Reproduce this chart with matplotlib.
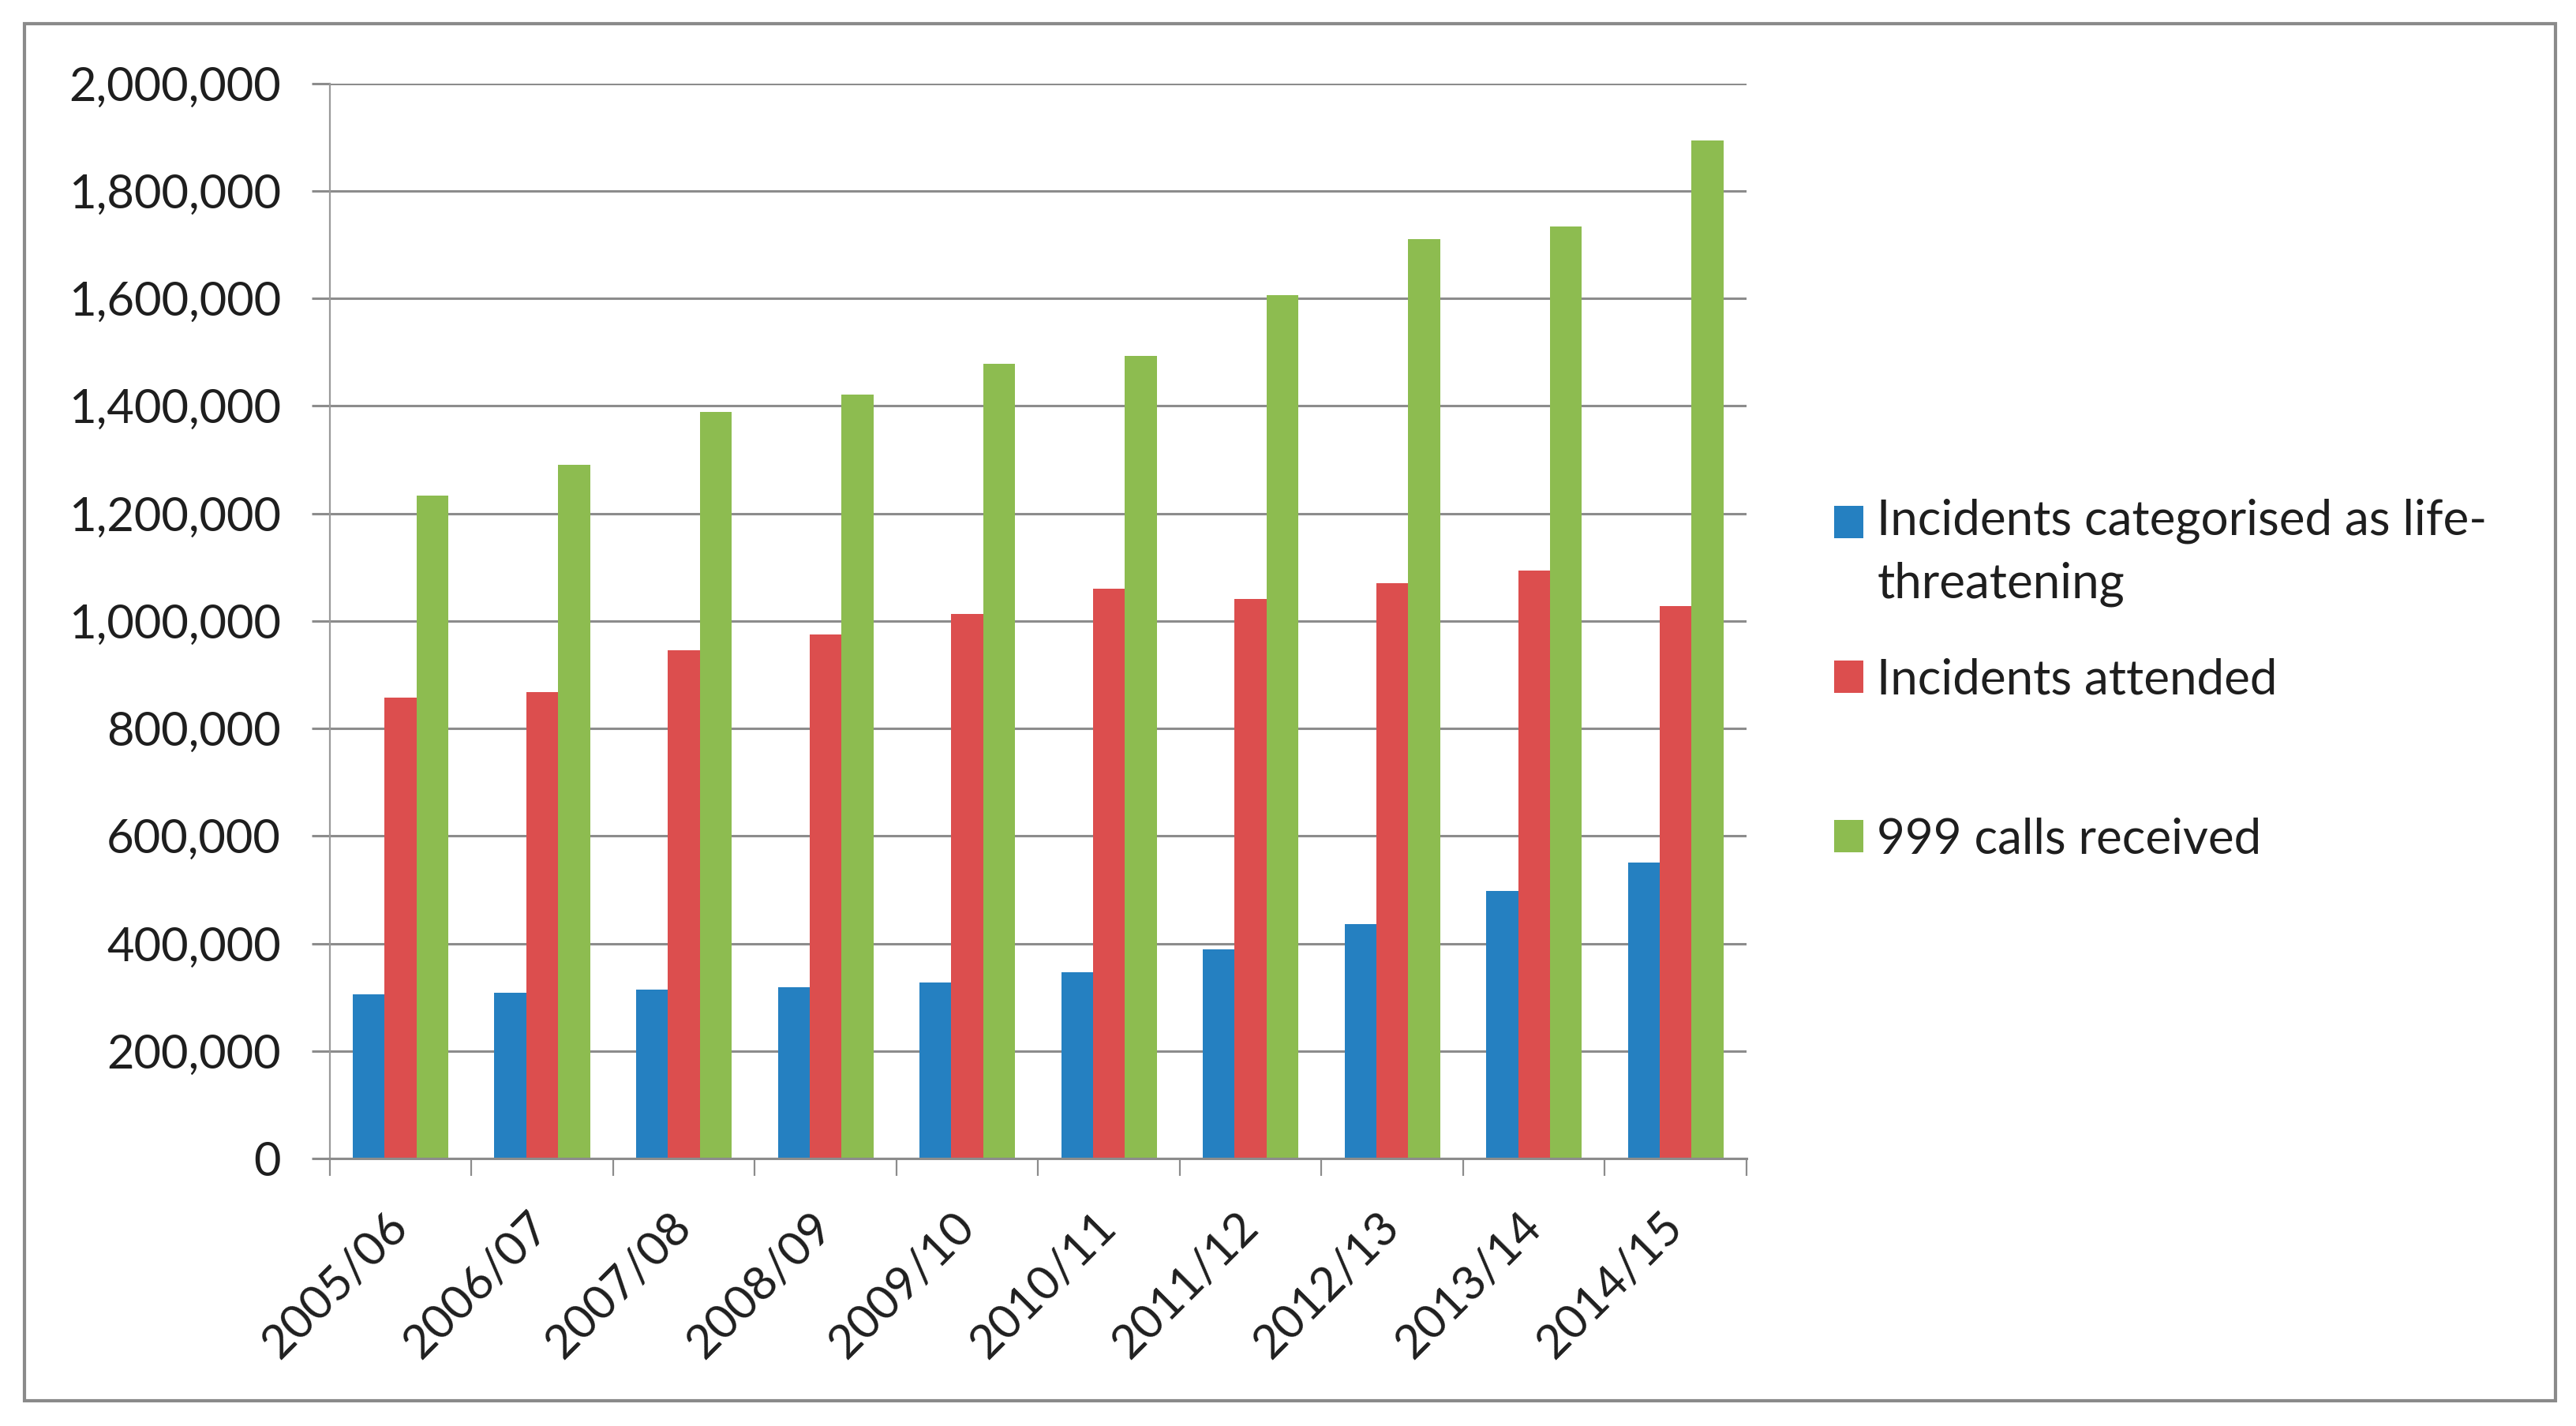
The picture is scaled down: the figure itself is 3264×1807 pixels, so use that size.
import matplotlib
matplotlib.use("Agg")
import matplotlib.pyplot as plt
import matplotlib.patches as mpatches
from matplotlib.legend_handler import HandlerPatch
from matplotlib.ticker import FuncFormatter, FixedLocator
import numpy as np

# data
years = ["2005/06", "2006/07", "2007/08", "2008/09", "2009/10",
         "2010/11", "2011/12", "2012/13", "2013/14", "2014/15"]
life_threatening = [305000, 309000, 314000, 319000, 328000,
                    346000, 389000, 436000, 498000, 550000]
attended = [857000, 867000, 946000, 974000, 1013000,
            1060000, 1041000, 1070000, 1093000, 1027000]
calls_999 = [1233000, 1290000, 1389000, 1421000, 1478000,
             1493000, 1606000, 1710000, 1734000, 1894000]

labels = ["Incidents categorised as life-\nthreatening",
          "Incidents attended",
          "999 calls received"]
colors = ["#2580C1", "#DC4E4E", "#8DBC50"]

plt.rcParams["font.family"] = ["Lato", "DejaVu Sans"]
TXT = "#1e1e1e"

fig = plt.figure(figsize=(16.32, 9.035), dpi=200)
ax = fig.add_axes([0.128, 0.1876, 0.55, 0.754])

x = np.arange(len(years))
w = 0.225
series = [life_threatening, attended, calls_999]
bars = []
for i, (vals, c) in enumerate(zip(series, colors)):
    bars.append(ax.bar(x + (i - 1) * w, vals, w, color=c, zorder=3))

ax.set_xlim(-0.5, len(years) - 0.5)
ax.set_ylim(0, 2000000)
ax.set_yticks(np.arange(0, 2000001, 200000))
ax.yaxis.set_major_formatter(FuncFormatter(lambda v, p: f"{v:,.0f}"))
ax.grid(axis="y", color="#8c8c8c", linewidth=1.1, zorder=0)

# ticks between categories, labels at category centres
ax.xaxis.set_major_locator(FixedLocator(np.arange(-0.5, len(years), 1.0)))
ax.xaxis.set_major_formatter(FuncFormatter(lambda v, p: ""))
ax.xaxis.set_minor_locator(FixedLocator(x))
ax.set_xticklabels(years, minor=True)
ax.tick_params(axis="x", which="major", length=8, width=0.8, color="#8c8c8c")
ax.tick_params(axis="x", which="minor", length=0, pad=28, labelsize=21.5, labelcolor=TXT)
ax.tick_params(axis="y", length=8.3, width=1.1, color="#8c8c8c", pad=14,
               labelsize=21.5, labelcolor=TXT)

for lbl in ax.get_xticklabels(minor=True):
    lbl.set_rotation(45)
    lbl.set_ha("right")
    lbl.set_va("center")
    lbl.set_rotation_mode("anchor")

for side in ["top", "right"]:
    ax.spines[side].set_visible(False)
ax.spines["left"].set_color("#9a9a9a")
ax.spines["left"].set_linewidth(0.8)
ax.spines["bottom"].set_color("#8c8c8c")
ax.spines["bottom"].set_linewidth(1.1)
ax.spines["bottom"].set_zorder(4)

LEG_FS = 22.3
LINESP = 1.48


def top_patch(legend, orig_handle, xdescent, ydescent, width, height, fontsize):
    # put the swatch beside the first line of a two-line label
    return mpatches.Rectangle((-xdescent, -ydescent + 0.43 * LINESP * fontsize),
                              width, height)


legend_y = [0.6126, 0.5230, 0.4112]
for i in range(3):
    handle = bars[i].patches[0]
    hmap = {handle: HandlerPatch(patch_func=top_patch)} if i == 0 else None
    leg = fig.legend([handle], [labels[i]], loc="center left",
                     bbox_to_anchor=(0.712, legend_y[i]), frameon=False,
                     borderpad=0, borderaxespad=0, handlelength=0.6,
                     handleheight=0.64, handletextpad=0.28, fontsize=LEG_FS,
                     labelcolor=TXT, handler_map=hmap)
    for t in leg.get_texts():
        t.set_linespacing(LINESP)

# outer chart frame
fig.patches.append(mpatches.Rectangle((0.0095, 0.0175), 0.9825, 0.966,
                                      transform=fig.transFigure, fill=False,
                                      edgecolor="#8a8a8a", linewidth=1.5))

fig.savefig("out.png", dpi=200, facecolor="white")
